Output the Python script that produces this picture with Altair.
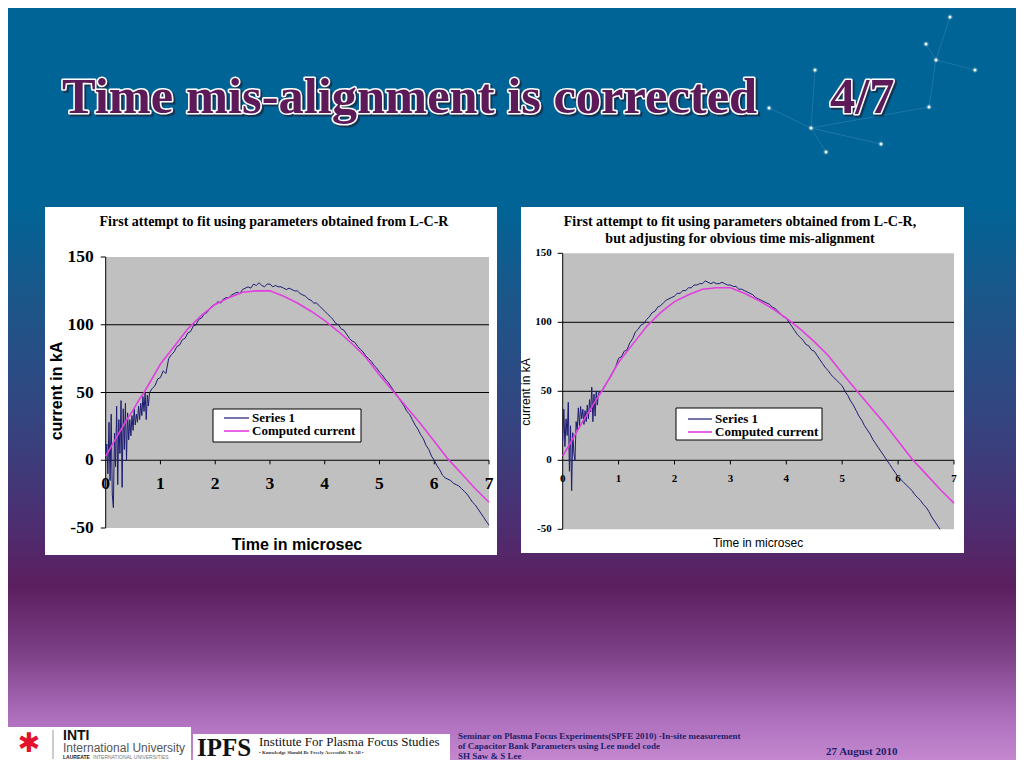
import altair as alt
import pandas as pd

# ---------------- data ----------------
SERIES = ["Series 1", "Computed current"]

tick_x = [0, 1, 2, 3, 4, 5, 6, 7]
tick_y = [150, 100, 50, 0, -50]
grid_y = [100, 50, 0]

# computed current (same model curve in both panels)
comp_t = [0, 0.1, 0.2, 0.3, 0.4, 0.5, 0.6, 0.7, 0.8, 0.9, 1.0, 1.25, 1.5, 1.75, 2.0, 2.25,
          2.5, 2.75, 3.0, 3.25, 3.5, 3.75, 4.0, 4.25, 4.5, 4.75, 5.0, 5.25, 5.5, 5.75, 6.0,
          6.25, 6.5, 6.75, 7.0]
comp_i = [3, 10, 17, 24, 31, 37, 44, 50, 57, 64, 71, 84, 97, 107, 115, 120,
          124, 125, 125, 121, 116, 110, 103, 95, 86, 76, 63, 51, 39, 27, 14,
          1, -10, -21, -31]

# measured current, left panel (original timing)
meas_a_noisy = [0, 12, -10, 28, -15, 34, -25, -35, 20, -5, 40, -18, 30, 5, 44, -20, 38, 8, 42, 0,
                35, 15, 30, 18, 33, 22, 38, 26, 34, 28, 40, 30, 42, 33, 47, 36, 50, 30, 48, 40, 50]
meas_a_main = [53, 55, 60, 61, 66, 64, 75, 78, 80, 84, 85, 89, 90, 94, 95, 99, 100, 104, 105, 108,
               109, 112, 114, 115, 117, 116, 119, 120, 120, 122, 123, 124, 123, 126, 127, 128, 127,
               130, 129, 131, 129, 128, 130, 130, 128, 129, 128, 128, 127, 126, 127, 126, 125, 125,
               123, 122, 121, 119, 118, 116, 116, 114, 112, 110, 108, 106, 104, 101, 100, 97, 96,
               93, 90, 88, 87, 84, 82, 80, 77, 75, 73, 70, 68, 65, 63, 60, 58, 55, 52, 49, 46, 43,
               40, 36, 34, 30, 26, 23, 19, 16, 11, 8, 3, 0, -4, -7, -11, -13, -14, -15, -17, -18,
               -19, -21, -23, -25, -28, -31, -33, -36, -39, -42, -45, -48]

# measured current, right panel (time-corrected)
meas_b_noisy = [14, 37, 10, 30, 18, 42, -8, 25, -22, 20, 5, 0, 28, 22, 38, 25, 39, 30, 37, 26,
                36, 28, 40, 30, 44, 35, 53, 28, 48, 32, 50, 40, 49]
meas_b_main = [50, 54, 57, 60, 64, 68, 74, 75, 79, 80, 85, 88, 93, 95, 98, 99, 102, 104, 107, 108,
               111, 112, 114, 116, 117, 118, 119, 121, 121, 123, 123, 125, 125, 127, 127, 128, 128,
               130, 129, 128, 129, 128, 128, 129, 128, 127, 127, 126, 126, 124, 124, 123, 122, 121,
               120, 118, 117, 116, 115, 114, 113, 111, 110, 108, 106, 104, 103, 100, 97, 94, 91,
               89, 87, 84, 83, 80, 79, 76, 73, 70, 67, 65, 62, 60, 58, 56, 54, 50, 47, 43, 40, 36,
               32, 29, 25, 22, 19, 15, 12, 9, 6, 3, 0, -3, -6, -9, -12, -14, -16, -18, -20, -22,
               -25, -27, -29, -32, -34, -37, -41, -44, -47, -50]


def grid(start, step, n):
    return [round(start + k * step, 3) for k in range(n)]


meas_a_t = grid(0.0, 0.02, len(meas_a_noisy)) + grid(0.85, 0.05, len(meas_a_main))
meas_a_i = meas_a_noisy + meas_a_main
meas_b_t = grid(0.0, 0.02, len(meas_b_noisy)) + grid(0.70, 0.05, len(meas_b_main))
meas_b_i = meas_b_noisy + meas_b_main

df_a = pd.concat([
    pd.DataFrame({"t": meas_a_t, "i": meas_a_i, "s": SERIES[0]}),
    pd.DataFrame({"t": comp_t, "i": comp_i, "s": SERIES[1]}),
])
df_b = pd.concat([
    pd.DataFrame({"t": meas_b_t, "i": meas_b_i, "s": SERIES[0]}),
    pd.DataFrame({"t": comp_t, "i": comp_i, "s": SERIES[1]}),
])

# decoration (constellation in the slide corner), page pixels
star_x = [950, 926, 936, 975, 815, 929, 811, 881, 826, 769]
star_y = [17, 44, 60, 70, 70, 107, 128, 144, 152, 108]
seg = [(0, 2), (1, 2), (2, 3), (2, 5), (4, 6), (6, 7), (9, 6), (6, 5), (6, 8)]

# ---------------- styling ----------------
OX, OY = 8, 8
W, H = 1008, 752
SERIF = "Liberation Serif"
SANS = "Liberation Sans"
NAVY = "#1c1c72"
PINK = "#e23ee0"
ONE = pd.DataFrame({"k": [0]})


def txt(text, x, y, size, font=SERIF, weight="normal", color="black", align="left",
        baseline="alphabetic", **kw):
    return alt.Chart(ONE).mark_text(text=text, font=font, fontSize=size, fontWeight=weight,
                                    fill=color, align=align, baseline=baseline, **kw).encode(
        x=alt.value(x - OX), y=alt.value(y - OY))


def box(x0, y0, x1, y1, color, **kw):
    return alt.Chart(ONE).mark_rect(fill=color, **kw).encode(
        x=alt.value(x0 - OX), x2=alt.value(x1 - OX), y=alt.value(y0 - OY), y2=alt.value(y1 - OY))


def hline(x0, x1, y, color, width):
    return alt.Chart(ONE).mark_rule(color=color, strokeWidth=width).encode(
        x=alt.value(x0 - OX), x2=alt.value(x1 - OX), y=alt.value(y - OY))


def legend_box(x0, y0, x1, y1, lx0, lx1, ya, yb):
    return [
        box(x0, y0, x1, y1, "white", stroke="black", strokeWidth=1),
        hline(lx0, lx1, ya, NAVY, 1.2),
        hline(lx0, lx1, yb, PINK, 1.6),
        txt(SERIES[0], lx1 + 3, ya, 13, weight="bold", baseline="middle"),
        txt(SERIES[1], lx1 + 3, yb, 13, weight="bold", baseline="middle"),
    ]


def panel(frame, plot, df, tick_fs, ydx, xdy):
    px0, py0, px1, py1 = plot
    X = alt.Scale(domain=[0, 7], range=[px0 - OX, px1 - OX], nice=False, zero=False)
    Y = alt.Scale(domain=[-50, 150], range=[py1 - OY, py0 - OY], nice=False, zero=False)

    def xd(v):
        return alt.XDatum(v, type="quantitative", scale=X, axis=None)

    def yd(v):
        return alt.YDatum(v, type="quantitative", scale=Y, axis=None)

    xf = alt.X("v:Q", scale=X, axis=None)
    yf = alt.Y("v:Q", scale=Y, axis=None)
    dty = pd.DataFrame({"v": tick_y, "lab": [str(v) for v in tick_y]})
    dtx = pd.DataFrame({"v": tick_x, "lab": [str(v) for v in tick_x]})
    dgy = pd.DataFrame({"v": grid_y})

    layers = [
        box(*frame, "white"),
        alt.Chart(ONE).mark_rect(fill="#c0c0c0").encode(
            x=xd(0), x2=alt.X2Datum(7), y=yd(-50), y2=alt.Y2Datum(150)),
        alt.Chart(dgy).mark_rule(color="black", strokeWidth=1).encode(
            y=yf, x=xd(0), x2=alt.X2Datum(7)),
        alt.Chart(ONE).mark_rule(color="black", strokeWidth=1).encode(
            x=xd(0), y=yd(-50), y2=alt.Y2Datum(150)),
        alt.Chart(dty).mark_rule(color="black", strokeWidth=1).encode(
            y=yf, x=xd(0), x2=alt.X2Datum(-0.09)),
        alt.Chart(dtx[dtx.v > 0]).mark_rule(color="black", strokeWidth=1).encode(
            x=xf, y=yd(0), y2=alt.Y2Datum(-3)),
        alt.Chart(df).mark_line().encode(
            x=alt.X("t:Q", scale=X, axis=None),
            y=alt.Y("i:Q", scale=Y, axis=None),
            color=alt.Color("s:N", scale=alt.Scale(domain=SERIES, range=[NAVY, PINK]),
                            legend=None),
            strokeWidth=alt.StrokeWidth("s:N", scale=alt.Scale(domain=SERIES, range=[1, 1.6]),
                                        legend=None),
        ),
        alt.Chart(dty).mark_text(font=SERIF, fontWeight="bold", fontSize=tick_fs, align="right",
                                 baseline="middle", dx=ydx, color="black").encode(
            y=yf, x=xd(0), text="lab:N"),
        alt.Chart(dtx).mark_text(font=SERIF, fontWeight="bold", fontSize=tick_fs, align="center",
                                 baseline="middle", dy=xdy, color="black").encode(
            x=xf, y=yd(0), text="lab:N"),
    ]
    return layers


# ---------------- background and title ----------------
grad = {
    "gradient": "linear", "x1": 0, "x2": 0, "y1": 0, "y2": 1,
    "stops": [
        {"offset": 0.0, "color": "#006496"},
        {"offset": 0.26, "color": "#006496"},
        {"offset": 0.39, "color": "#1c5689"},
        {"offset": 0.55, "color": "#354480"},
        {"offset": 0.68, "color": "#4b2f72"},
        {"offset": 0.77, "color": "#5c1f5f"},
        {"offset": 0.855, "color": "#7b3f85"},
        {"offset": 0.945, "color": "#ae6fbd"},
        {"offset": 1.0, "color": "#c488cf"},
    ],
}
layers = [alt.Chart(ONE).mark_rect(fill=grad).encode(
    x=alt.value(0), x2=alt.value(W), y=alt.value(0), y2=alt.value(H))]

# constellation
sdf = pd.DataFrame({"x": [v - OX for v in star_x], "y": [v - OY for v in star_y]})
segdf = pd.DataFrame({
    "x": [star_x[a] - OX for a, b in seg], "y": [star_y[a] - OY for a, b in seg],
    "x2": [star_x[b] - OX for a, b in seg], "y2": [star_y[b] - OY for a, b in seg]})
layers += [
    alt.Chart(segdf).mark_rule(color="#5f9cc6", strokeWidth=0.7, opacity=0.45).encode(
        x=alt.X("x:Q", scale=None, axis=None), y=alt.Y("y:Q", scale=None, axis=None),
        x2="x2:Q", y2="y2:Q"),
    alt.Chart(sdf).mark_circle(color="#e8f4ff", size=30, opacity=0.2).encode(
        x=alt.X("x:Q", scale=None, axis=None), y=alt.Y("y:Q", scale=None, axis=None)),
    alt.Chart(sdf).mark_circle(color="#ffffff", size=9, opacity=0.95).encode(
        x=alt.X("x:Q", scale=None, axis=None), y=alt.Y("y:Q", scale=None, axis=None)),
]

TITLE = "Time mis-alignment is corrected"
for t_text, tx in [(TITLE, 62), ("4/7", 830)]:
    layers += [
        txt(t_text, tx + 2, 115, 50.5, weight="bold", color="#1b2a44", stroke="#1b2a44",
            strokeWidth=3.2, opacity=0.8),
        txt(t_text, tx, 113, 50.5, weight="bold", color="white", stroke="white",
            strokeWidth=3.2, strokeJoin="round"),
        txt(t_text, tx, 113, 50.5, weight="bold", color="#5c1b58"),
    ]

# ---------------- panels ----------------
layers += panel((45, 207, 497, 555), (105.7, 257, 489, 528), df_a, 17.5, -12, 24)
layers += legend_box(213, 409, 361, 442, 224, 249, 418, 431)
layers += [
    txt("First attempt to fit using parameters obtained from L-C-R", 274, 222, 14,
        weight="bold", align="center", baseline="middle"),
    txt("current in kA", 57, 391, 16, font=SANS, weight="bold", align="center",
        baseline="middle", angle=270),
    txt("Time in microsec", 297, 545, 16, font=SANS, weight="bold", align="center",
        baseline="middle"),
]
layers += panel((521, 207, 964, 553), (562.7, 253.3, 954, 529.3), df_b, 11, -11, 19)
layers += legend_box(676, 408, 822, 440, 688, 712, 419, 432)
layers += [
    txt("First attempt to fit using parameters obtained from L-C-R,", 740, 222, 14,
        weight="bold", align="center", baseline="middle"),
    txt("but adjusting for obvious time mis-alignment", 740, 239, 14,
        weight="bold", align="center", baseline="middle"),
    txt("current in kA", 526, 392, 12, font=SANS, align="center", baseline="middle", angle=270),
    txt("Time in microsec", 758, 543, 12, font=SANS, align="center", baseline="middle"),
]

# ---------------- footer (kept inside the visible page) ----------------
FNAVY = "#1e1e6a"
layers += [
    box(8, 727, 191, 760, "white"),
    box(193, 734, 450, 760, "white"),
    txt("✱", 29, 744, 27, font="DejaVu Sans", color="#e3122d", align="center",
        baseline="middle"),
    alt.Chart(ONE).mark_rule(color="#999999", strokeWidth=1).encode(
        x=alt.value(53 - OX), y=alt.value(730 - OY), y2=alt.value(759 - OY)),
    txt("INTI", 63, 739.5, 14, font=SANS, weight="bold", color="#111111"),
    txt("International University", 63, 752, 12, font=SANS, color="#555555"),
    txt("LAUREATE", 63, 758.5, 5, font=SANS, weight="bold", color="#222222"),
    txt("INTERNATIONAL UNIVERSITIES", 93, 758.5, 5, font=SANS, color="#777777"),
    txt("IPFS", 197, 755.5, 25, weight="bold", color="#111111"),
    txt("Institute For Plasma Focus Studies", 259, 746, 13, color="#111111"),
    txt("• Knowledge Should Be Freely Accessible To All •", 259, 754, 5, weight="bold",
        color="#333333"),
    txt("Seminar on Plasma Focus Experiments(SPFE 2010)  -In-site measurement", 458, 739, 9,
        weight="bold", color=FNAVY),
    txt("of Capacitor Bank Parameters using Lee model code", 458, 749, 9, weight="bold",
        color=FNAVY),
    txt("SH Saw & S Lee", 458, 758.5, 9, weight="bold", color=FNAVY),
    txt("27 August 2010", 826, 755, 11, weight="bold", color=FNAVY),
]

chart = alt.layer(*layers).properties(
    width=W, height=H, autosize=alt.AutoSizeParams(type="none"), padding=0
).resolve_scale(
    x="independent", y="independent", color="independent", strokeWidth="independent"
).configure_view(stroke=None).configure(background="#ffffff")

chart.save("out.html", embed_options={"renderer": "svg", "actions": False})
